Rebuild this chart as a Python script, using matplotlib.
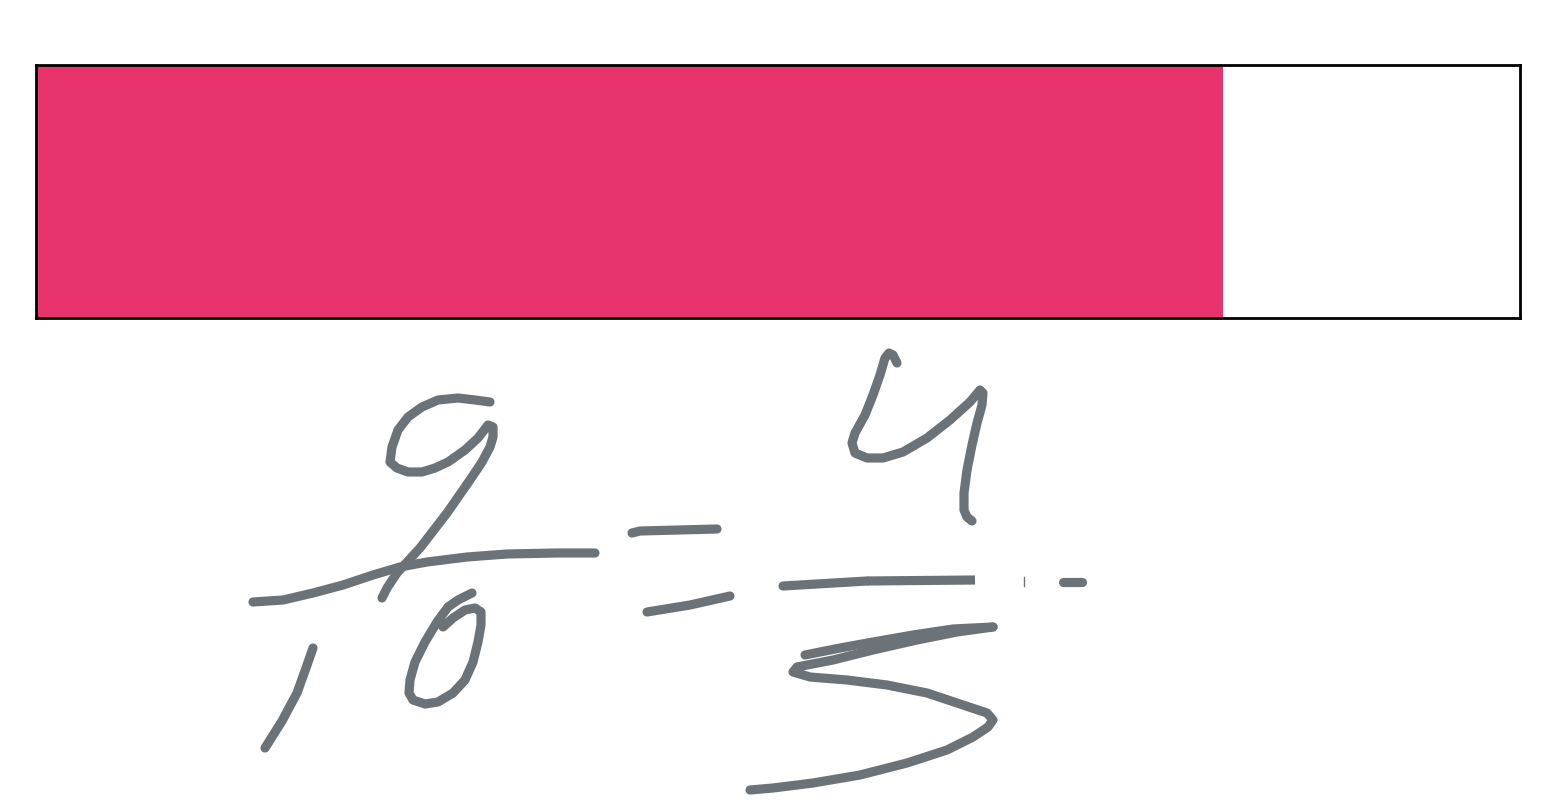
import matplotlib
matplotlib.use("Agg")
import matplotlib.pyplot as plt

# fraction shown by the bar
numerator = 8
denominator = 10
fraction = numerator / denominator

# handwritten strokes (pixel coords of the picture, y down)
stroke_8_x = [490, 475, 458, 438, 422, 408, 398, 392, 390, 397, 408, 422, 435, 448, 465, 478,
              488, 493, 493, 490, 482, 472, 463, 447, 420, 397, 387, 382]
stroke_8_y = [402, 400, 398, 400, 407, 417, 430, 447, 462, 468, 472, 472, 468, 462, 450, 438,
              425, 427, 437, 447, 462, 477, 490, 513, 548, 573, 588, 598]

bar1_x = [253, 283, 313, 343, 373, 400, 427, 467, 507, 557, 595]
bar1_y = [602, 600, 593, 585, 575, 567, 562, 557, 554, 553, 553]

stroke_1_x = [313, 306, 297, 282, 265]
stroke_1_y = [648, 668, 693, 721, 748]

stroke_0_x = [472, 458, 448, 437, 425, 415, 410, 409, 413, 425, 438, 453, 465, 473, 478, 481,
              481, 475, 465, 453, 443]
stroke_0_y = [593, 600, 607, 622, 642, 662, 680, 693, 700, 704, 702, 693, 680, 662, 642, 625,
              612, 608, 610, 618, 627]

eq_top_x = [632, 640, 717]
eq_top_y = [533, 531, 529]
eq_bot_x = [647, 690, 730]
eq_bot_y = [612, 605, 596]

stroke_4_x = [897, 893, 889, 885, 880, 873, 865, 855, 852, 855, 867, 883, 903, 927, 950, 970,
              980, 983, 982, 977, 972, 967, 964, 964, 967, 972]
stroke_4_y = [363, 355, 353, 358, 375, 395, 415, 433, 443, 453, 458, 458, 452, 438, 420, 402,
              390, 393, 405, 423, 445, 470, 493, 510, 517, 521]

bar2_x = [783, 800, 867, 975]
bar2_y = [586, 585, 581, 580]
dash_x = [1063, 1082]
dash_y = [582, 582]

stroke_5a_x = [805, 840, 873, 913, 953, 993]
stroke_5a_y = [655, 648, 642, 635, 629, 627]
stroke_5b_x = [993, 957, 917, 873, 833, 797, 793, 810, 847, 887, 927, 963, 987, 993, 988, 973,
               947, 907, 860, 813, 773, 750]
stroke_5b_y = [627, 632, 640, 650, 660, 667, 672, 677, 680, 685, 693, 705, 713, 720, 727, 737,
               750, 763, 775, 783, 788, 790]

PINK = "#E8336C"
INK = "#6C7378"

fig = plt.figure(figsize=(15.57, 8), dpi=100)

# the bar
axb = fig.add_axes([36 / 1557, (800 - 318) / 800, 1484 / 1557, 253 / 800])
axb.barh([0], [fraction], height=1, left=0, color=PINK, linewidth=0)
axb.set_xlim(0, 1)
axb.set_ylim(-0.5, 0.5)
axb.set_xticks([])
axb.set_yticks([])
for sp in axb.spines.values():
    sp.set_color("black")
    sp.set_linewidth(2)

# handwriting overlay
ax = fig.add_axes([0, 0, 1, 1])
ax.set_xlim(0, 1557)
ax.set_ylim(800, 0)
ax.axis("off")

lw = 6.6
strokes = [
    (stroke_8_x, stroke_8_y), (bar1_x, bar1_y), (stroke_1_x, stroke_1_y),
    (stroke_0_x, stroke_0_y), (eq_top_x, eq_top_y), (eq_bot_x, eq_bot_y),
    (stroke_4_x, stroke_4_y), (dash_x, dash_y),
    (stroke_5a_x, stroke_5a_y), (stroke_5b_x, stroke_5b_y),
]
for xs, ys in strokes:
    ax.plot(xs, ys, color=INK, linewidth=lw, solid_capstyle="round",
            solid_joinstyle="round")
# main line of the second fraction bar: round start, cut end
ax.plot(bar2_x[:-1], bar2_y[:-1], color=INK, linewidth=lw, solid_capstyle="round")
ax.plot(bar2_x[2:], bar2_y[2:], color=INK, linewidth=lw, solid_capstyle="butt")
ax.plot([1024, 1024], [577, 586], color=INK, linewidth=1.0)

fig.savefig("out.png", dpi=100, facecolor="white")
